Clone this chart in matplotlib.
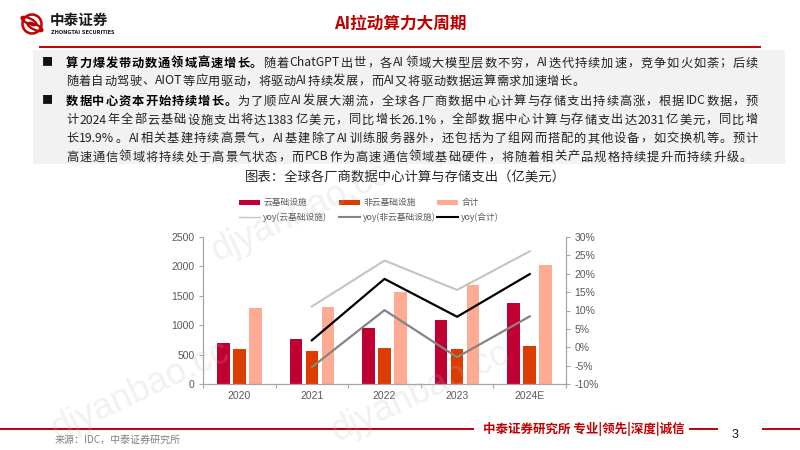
import re
import matplotlib
matplotlib.use('Agg')
import matplotlib.pyplot as plt
import numpy as np
from matplotlib.lines import Line2D
from matplotlib.patches import Rectangle, Ellipse

plt.rcParams['font.family'] = ['Noto Sans CJK SC', 'DejaVu Sans']

# ---------------- data ----------------
categories = ['2020', '2021', '2022', '2023', '2024E']
cloud = [690, 765, 945, 1095, 1383]
noncloud = [595, 560, 610, 595, 648]
total = [1290, 1315, 1560, 1690, 2031]
yoy_cloud = [11.1, 23.6, 15.6, 26.1]        # 2021..2024E
yoy_noncloud = [-5.4, 10.1, -2.7, 8.4]
yoy_total = [1.9, 18.6, 8.3, 19.9]
left_ticks = [0, 500, 1000, 1500, 2000, 2500]
right_ticks = [-10, -5, 0, 5, 10, 15, 20, 25, 30]
series_names = ['云基础设施', '非云基础设施', '合计']
line_names = ['yoy(云基础设施)', 'yoy(非云基础设施)', 'yoy(合计)']

C_CLOUD = '#C00032'
C_NON = '#DC3C00'
C_TOT = '#FFAA92'
C_YC = '#C4C4C4'
C_YN = '#858585'
C_YT = '#000000'
RED = '#C00000'

W, H = 800, 450
fig = plt.figure(figsize=(8, 4.5), dpi=100)
renderer = fig.canvas.get_renderer()


def P(x, y):
    return (x / W, 1 - y / H)


# ---------------- header ----------------
fig.add_artist(Ellipse(P(32, 24), 19 / W, 19 / H, fill=False, ec=RED, lw=1.8,
                       transform=fig.transFigure))
fig.add_artist(Ellipse(P(29, 21), 8 / W, 11 / H, angle=45, fill=False, ec=RED, lw=1.6,
                       transform=fig.transFigure))
fig.add_artist(Ellipse(P(35, 27), 8 / W, 11 / H, angle=45, fill=False, ec=RED, lw=1.6,
                       transform=fig.transFigure))
fig.text(*P(50, 20), '中泰证券', fontsize=10.5, weight='bold', color='#1a1a1a',
         ha='left', va='center')
fig.text(*P(51, 33), 'ZHONGTAI SECURITIES', fontsize=3.6, weight='bold',
         color='#1a1a1a', ha='left', va='center', family='DejaVu Sans')
fig.text(*P(400, 24), 'AI拉动算力大周期', fontsize=12, weight='bold', color=RED,
         ha='center', va='center')
fig.add_artist(Line2D([40 / W, 760 / W], [1 - 46.5 / H] * 2, color=RED, lw=1.4))

# ---------------- text box ----------------
fig.add_artist(Rectangle(P(33, 164), 752 / W, 114 / H, color='#F2F2F2', lw=0,
                         transform=fig.transFigure, zorder=0))

FS = 8.8


def tok_width(s, bold):
    t = fig.text(0, 0, s, fontsize=FS, weight='bold' if bold else 'normal')
    w = t.get_window_extent(renderer).width
    t.remove()
    return w


def draw_line(segments, y, x0=66, x1=758, justify=True):
    toks = []
    for text, bold in segments:
        for m in re.finditer(r'[A-Za-z0-9.%]+|.', text):
            toks.append((m.group(0), bold))
    widths = [tok_width(s, b) for s, b in toks]
    gap = (x1 - x0 - sum(widths)) / (len(toks) - 1) if justify else 0.4
    x = x0
    for (s, b), w in zip(toks, widths):
        fig.text(x / W, 1 - (y + 4.5) / H, s, fontsize=FS,
                 weight='bold' if b else 'normal',
                 color='#000000' if b else '#222222', ha='left', va='baseline')
        x += w + gap


fig.text(*P(47, 62), '■', fontsize=8, ha='center', va='center', color='#111111')
fig.text(*P(47, 100), '■', fontsize=8, ha='center', va='center', color='#111111')
draw_line([('算力爆发带动数通领域高速增长。', True),
           ('随着ChatGPT出世，各AI领域大模型层数不穷，AI迭代持续加速，竞争如火如荼；后续', False)], 62)
draw_line([('随着自动驾驶、AIOT等应用驱动，将驱动AI持续发展，而AI又将驱动数据运算需求加速增长。', False)],
          80, justify=False)
draw_line([('数据中心资本开始持续增长。', True),
           ('为了顺应AI发展大潮流，全球各厂商数据中心计算与存储支出持续高涨，根据IDC数据，预', False)], 100)
draw_line([('计2024年全部云基础设施支出将达1383亿美元，同比增长26.1%，全部数据中心计算与存储支出达2031亿美元，同比增', False)], 119)
draw_line([('长19.9%。AI相关基建持续高景气，AI基建除了AI训练服务器外，还包括为了组网而搭配的其他设备，如交换机等。预计', False)], 137.5)
draw_line([('高速通信领域将持续处于高景气状态，而PCB作为高速通信领域基础硬件，将随着相关产品规格持续提升而持续升级。', False)], 156, x1=752)

# ---------------- chart title & legend ----------------
fig.text(*P(405, 177), '图表：全球各厂商数据中心计算与存储支出（亿美元）', fontsize=9.6,
         color='#262626', ha='center', va='center')

leg_x = [239, 339, 437]
for xx, c, name in zip(leg_x, [C_CLOUD, C_NON, C_TOT], series_names):
    fig.add_artist(Rectangle(P(xx, 205), 21 / W, 5 / H, color=c, lw=0,
                             transform=fig.transFigure))
    fig.text(*P(xx + 25, 202.5), name, fontsize=6.3, color='#595959',
             ha='left', va='center')
for xx, c, name in zip(leg_x, [C_YC, C_YN, C_YT], line_names):
    fig.add_artist(Line2D([xx / W, (xx + 21) / W], [1 - 217 / H] * 2, color=c,
                          lw=1.5 if c != C_YC else 1.0))
    fig.text(*P(xx + 24, 217), name, fontsize=6.3, color='#595959',
             ha='left', va='center')

# ---------------- chart ----------------
ax = fig.add_axes([203 / W, 1 - 384 / H, 363 / W, 147 / H])
x = np.arange(len(categories))
bw = 0.175
off = 0.22
ax.bar(x - off, cloud, bw, color=C_CLOUD, zorder=2)
ax.bar(x, noncloud, bw, color=C_NON, zorder=2)
ax.bar(x + off, total, bw, color=C_TOT, zorder=2)
ax.set_xlim(-0.5, len(categories) - 0.5)
ax.set_ylim(0, 2500)
ax.set_yticks(left_ticks)
ax.set_xticks(x)
ax.set_xticklabels(categories)
ax.set_xticks(np.arange(-0.5, len(categories), 1.0), minor=True)
ax.tick_params(axis='x', which='major', length=0, labelsize=7.5,
               labelcolor='#595959', pad=5)
ax.tick_params(axis='x', which='minor', length=3, color='#A6A6A6', width=0.8)
ax.tick_params(axis='y', length=3, color='#A6A6A6', width=0.8, labelsize=7.5,
               labelcolor='#595959', pad=3)
for lab in ax.get_xticklabels() + ax.get_yticklabels():
    lab.set_family('Liberation Sans')
for s in ['top', 'right']:
    ax.spines[s].set_visible(False)
for s in ['left', 'bottom']:
    ax.spines[s].set_color('#A6A6A6')
    ax.spines[s].set_linewidth(0.9)
ax.patch.set_alpha(0)

ax2 = ax.twinx()
ax2.plot(x[1:], yoy_cloud, color=C_YC, lw=1.5, zorder=3)
ax2.plot(x[1:], yoy_noncloud, color=C_YN, lw=1.6, zorder=3)
ax2.plot(x[1:], yoy_total, color=C_YT, lw=1.6, zorder=3)
ax2.set_ylim(-10, 30)
ax2.set_yticks(right_ticks)
ax2.set_yticklabels([f'{v}%' for v in right_ticks])
ax2.tick_params(axis='y', length=3, color='#A6A6A6', width=0.8, labelsize=7.5,
                labelcolor='#595959', pad=3)
for lab in ax2.get_yticklabels():
    lab.set_family('Liberation Sans')
for s in ['top', 'left', 'bottom']:
    ax2.spines[s].set_visible(False)
ax2.spines['right'].set_color('#A6A6A6')
ax2.spines['right'].set_linewidth(0.9)

# ---------------- footer ----------------
fig.add_artist(Line2D([0, 473 / W], [1 - 429 / H] * 2, color=RED, lw=1.4))
fig.text(*P(483, 429), '中泰证券研究所 专业|领先|深度|诚信', fontsize=9, weight='bold',
         color=RED, ha='left', va='center')
fig.add_artist(Line2D([690 / W, 717 / W], [1 - 429 / H] * 2, color=RED, lw=1.4))
fig.text(*P(735, 435), '3', fontsize=9, color='#111111', ha='center', va='center',
         family='Liberation Sans')
fig.add_artist(Line2D([763 / W, 1], [1 - 429 / H] * 2, color=RED, lw=1.4))
fig.text(*P(55, 440), '来源：IDC，中泰证券研究所', fontsize=7.2, color='#7F7F7F',
         ha='left', va='center')

# ---------------- watermarks ----------------
for (wx, wy) in [(300, 212), (140, 390), (420, 392)]:
    fig.text(*P(wx, wy), 'djyanbao.cc', fontsize=26, color='#BBBBBB', alpha=0.2,
             rotation=25, ha='center', va='center', family='Liberation Sans',
             zorder=10)

fig.savefig('out.png', dpi=100)
